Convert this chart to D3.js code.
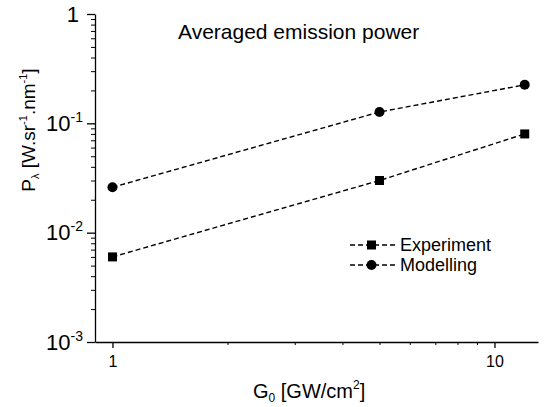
<!DOCTYPE html>
<html>
<head>
<meta charset="utf-8">
<script src="https://cdn.jsdelivr.net/npm/d3@7"></script>
<style>
  body { margin: 0; background: #fff; }
  svg { font-family: "Liberation Sans", Arial, sans-serif; }
  .tick text { font-family: "Liberation Sans", Arial, sans-serif; }
</style>
</head>
<body>
<div id="container"></div>
<script>
/* CONSTANTS AND GLOBALS */
const width = 547,
  height = 407,
  margin = { top: 14, bottom: 65, left: 95, right: 9 };

/* DATA */
const intensity = [1, 5, 12];              // G0 [GW/cm2]
const experiment = [0.006, 0.03, 0.08];
const modelling = [0.026, 0.127, 0.225];
const yTicks = [1e-3, 1e-2, 1e-1, 1];
const yTickExp = ["-3", "-2", "-1", ""];
const xTicks = [1, 10];
const xMinor = [2, 3, 4, 5, 6, 7, 8, 9];

/* SCALES */
const xScale = d3.scaleLog()
  .domain([0.9, 13])
  .range([margin.left, width - margin.right]);

const yScale = d3.scaleLog()
  .domain([1e-3, 1])
  .range([height - margin.bottom, margin.top]);

const svg = d3.select("#container")
  .append("svg")
  .attr("width", width)
  .attr("height", height);

// minor ticks y
const yMinor = [];
for (let e = -3; e < 0; e++) {
  for (let m = 2; m <= 9; m++) yMinor.push(m * Math.pow(10, e));
}

svg.append("g")
  .attr("transform", `translate(${margin.left},0)`)
  .call(d3.axisLeft(yScale).tickValues(yMinor).tickSize(4).tickSizeOuter(0).tickFormat(""))
  .call(g => g.select(".domain").remove());

// major y axis
const yAxis = svg.append("g")
  .attr("transform", `translate(${margin.left},0)`)
  .call(d3.axisLeft(yScale).tickValues(yTicks).tickSize(8).tickSizeOuter(0).tickPadding(4).tickFormat(""));

yAxis.selectAll(".tick text")
  .attr("font-size", 22)
  .attr("fill", "#000")
  .each(function(d, i) {
    const t = d3.select(this);
    if (yTickExp[i] === "") {
      t.append("tspan").attr("dx", -4).text("1");
    } else {
      t.append("tspan").text("10");
      t.append("tspan").attr("font-size", 14).attr("dy", -9).text(yTickExp[i]);
    }
  });
yAxis.selectAll("line, path").attr("stroke-width", 1.3);

// x axis
svg.append("g")
  .attr("transform", `translate(0,${height - margin.bottom})`)
  .call(d3.axisBottom(xScale).tickValues(xMinor).tickSize(3).tickSizeOuter(0).tickFormat(""))
  .call(g => g.select(".domain").remove());

const xAxis = svg.append("g")
  .attr("transform", `translate(0,${height - margin.bottom})`)
  .call(d3.axisBottom(xScale).tickValues(xTicks).tickSize(6).tickSizeOuter(0).tickPadding(8).tickFormat(d3.format("d")));
xAxis.selectAll(".tick text").attr("font-size", 16).attr("fill", "#000");
xAxis.selectAll("line, path").attr("stroke-width", 1.3);

/* LINES */
const line = d3.line()
  .x(d => xScale(d[0]))
  .y(d => yScale(d[1]));

const series = [
  { name: "Experiment", values: experiment, symbol: "square" },
  { name: "Modelling", values: modelling, symbol: "circle" }
];

series.forEach(s => {
  const pts = intensity.map((x, i) => [x, s.values[i]]);
  svg.append("path")
    .datum(pts)
    .attr("d", line)
    .attr("fill", "none")
    .attr("stroke", "#000")
    .attr("stroke-width", 1.4)
    .attr("stroke-dasharray", "5,3");

  if (s.symbol === "square") {
    svg.selectAll(".sq")
      .data(pts)
      .join("rect")
      .attr("class", "sq")
      .attr("x", d => xScale(d[0]) - 4.5)
      .attr("y", d => yScale(d[1]) - 4.5)
      .attr("width", 9)
      .attr("height", 9)
      .attr("fill", "#000");
  } else {
    svg.selectAll(".ci")
      .data(pts)
      .join("circle")
      .attr("class", "ci")
      .attr("cx", d => xScale(d[0]))
      .attr("cy", d => yScale(d[1]))
      .attr("r", 5)
      .attr("fill", "#000");
  }
});

/* LEGEND */
const legend = svg.append("g").attr("transform", "translate(350,245)");
series.forEach((s, i) => {
  const g = legend.append("g").attr("transform", `translate(0,${i * 20})`);
  g.append("line")
    .attr("x1", 0).attr("x2", 45)
    .attr("stroke", "#000").attr("stroke-width", 1.4)
    .attr("stroke-dasharray", "5,3");
  if (s.symbol === "square") {
    g.append("rect").attr("x", 17).attr("y", -4.5).attr("width", 9).attr("height", 9);
  } else {
    g.append("circle").attr("cx", 21.5).attr("r", 5);
  }
  g.append("text")
    .attr("x", 50)
    .attr("y", 6)
    .attr("font-size", 18)
    .text(s.name);
});

/* TITLE & LABELS */
svg.append("text")
  .attr("x", 178)
  .attr("y", 39)
  .attr("font-size", 21)
  .text("Averaged emission power");

const xl = svg.append("text")
  .attr("x", 253)
  .attr("y", 398)
  .attr("font-size", 20);
xl.append("tspan").text("G");
xl.append("tspan").attr("font-size", 12).attr("dy", 4).text("0");
xl.append("tspan").attr("dy", -4).text(" [GW/cm");
xl.append("tspan").attr("font-size", 12).attr("dy", -9).text("2");
xl.append("tspan").attr("dy", 9).text("]");

const yl = svg.append("text")
  .attr("transform", "translate(35,130) rotate(-90)")
  .attr("text-anchor", "middle")
  .attr("font-size", 19);
yl.append("tspan").text("P");
yl.append("tspan").attr("font-size", 11).attr("dy", 4).text("λ");
yl.append("tspan").attr("dy", -4).text(" [W.sr");
yl.append("tspan").attr("font-size", 11).attr("dy", -8).text("-1");
yl.append("tspan").attr("dy", 8).text(".nm");
yl.append("tspan").attr("font-size", 11).attr("dy", -8).text("-1");
yl.append("tspan").attr("dy", 8).text("]");
</script>
</body>
</html>
